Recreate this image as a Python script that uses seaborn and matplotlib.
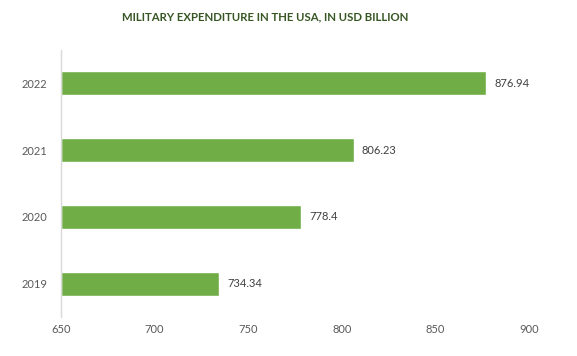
import matplotlib

matplotlib.use("Agg")

import matplotlib.pyplot as plt
import pandas as pd
import seaborn as sns

years = ["2022", "2021", "2020", "2019"]
spending = [876.94, 806.23, 778.4, 734.34]
value_labels = ["876.94", "806.23", "778.4", "734.34"]
x_ticks = [650, 700, 750, 800, 850, 900]

TITLE = "MILITARY EXPENDITURE IN THE USA, IN USD BILLION"
BAR_COLOR = "#70AD47"
TEXT_COLOR = "#595959"


def main() -> None:
    sns.set_theme(style="white")
    plt.rcParams["font.family"] = ["Lato", "DejaVu Sans"]

    df = pd.DataFrame({"year": years, "spending": spending})

    fig = plt.figure(figsize=(5.77, 3.56), dpi=100)
    ax = fig.add_axes([0.1057, 0.1096, 0.8114, 0.7504])

    # bars start from the axis minimum (650), like the original Excel chart
    base = x_ticks[0]
    sns.barplot(
        data=df.assign(length=df["spending"] - base),
        x="length",
        y="year",
        left=base,
        color=BAR_COLOR,
        width=0.36,
        saturation=1,
        ax=ax,
        orient="h",
    )

    ax.set_xlim(x_ticks[0], x_ticks[-1])
    ax.set_ylim(3.5, -0.5)
    ax.set_xticks(x_ticks)
    ax.set_xticklabels([str(t) for t in x_ticks])
    ax.tick_params(axis="both", length=0, labelsize=8, colors=TEXT_COLOR)
    ax.tick_params(axis="x", pad=5)
    ax.tick_params(axis="y", pad=10)
    ax.set_xlabel("")
    ax.set_ylabel("")

    for i, (v, lab) in enumerate(zip(spending, value_labels)):
        ax.annotate(lab, (v, i), xytext=(6, 0), textcoords="offset points",
                    va="center", ha="left", fontsize=8, color="#404040")

    for side in ["top", "right", "bottom"]:
        ax.spines[side].set_visible(False)
    ax.spines["left"].set_color("#D9D9D9")
    ax.spines["left"].set_linewidth(1)

    fig.text(265 / 577, 1 - 17 / 356, TITLE, ha="center", va="center",
             fontsize=8.2, fontweight="bold", color="#375623")

    fig.savefig("out.png", dpi=100)
    plt.close(fig)


if __name__ == "__main__":
    main()
